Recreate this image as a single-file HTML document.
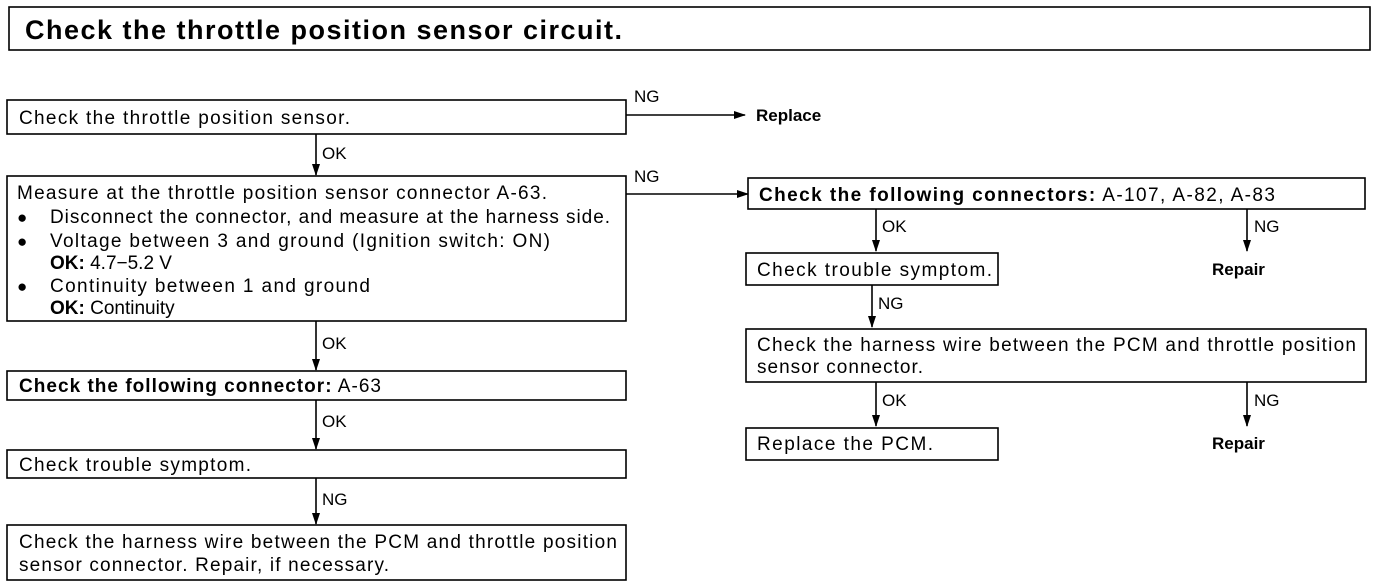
<!DOCTYPE html>
<html><head><meta charset="utf-8"><style>
html,body{margin:0;padding:0;background:#fff;}
svg{display:block;}
text{font-family:"Liberation Sans",Arial,sans-serif;font-size:19px;fill:#000;}
.s{font-size:17px;}
.b{font-weight:bold;}
</style></head><body>
<svg width="1392" height="588" viewBox="0 0 1392 588" xmlns="http://www.w3.org/2000/svg">
<defs><marker id="a" markerWidth="12" markerHeight="8" refX="11" refY="4" orient="auto" markerUnits="userSpaceOnUse"><path d="M0,0 L12,4 L0,8 Z" fill="#000"/></marker></defs>
<g fill="none" stroke="#000" stroke-width="1.6">
<rect x="9" y="7" width="1361" height="43"/>
<rect x="7" y="100" width="619" height="34"/>
<rect x="7" y="176" width="619" height="145"/>
<rect x="7" y="371" width="619" height="29"/>
<rect x="7" y="450" width="619" height="28"/>
<rect x="7" y="525" width="619" height="55"/>
<rect x="748" y="178" width="617" height="31"/>
<rect x="746" y="253" width="252" height="32"/>
<rect x="746" y="329" width="620" height="53"/>
<rect x="746" y="428" width="252" height="32"/>
<line x1="626" y1="115" x2="745" y2="115" marker-end="url(#a)"/>
<line x1="626" y1="194" x2="748" y2="194" marker-end="url(#a)"/>
<line x1="316" y1="134" x2="316" y2="175" marker-end="url(#a)"/>
<line x1="316" y1="321" x2="316" y2="370" marker-end="url(#a)"/>
<line x1="316" y1="400" x2="316" y2="449" marker-end="url(#a)"/>
<line x1="316" y1="478" x2="316" y2="524" marker-end="url(#a)"/>
<line x1="876" y1="209" x2="876" y2="251" marker-end="url(#a)"/>
<line x1="1247" y1="209" x2="1247" y2="251" marker-end="url(#a)"/>
<line x1="872" y1="285" x2="872" y2="327" marker-end="url(#a)"/>
<line x1="876" y1="382" x2="876" y2="426" marker-end="url(#a)"/>
<line x1="1247" y1="382" x2="1247" y2="426" marker-end="url(#a)"/>
</g>
<text x="25" y="39" class="b" style="font-size:27px" textLength="597">Check the throttle position sensor circuit.</text>
<text x="19" y="124" textLength="331">Check the throttle position sensor.</text>
<text x="634" y="102" class="s">NG</text>
<text x="756" y="121" class="b s">Replace</text>
<text x="322" y="159" class="s">OK</text>
<text x="634" y="182" class="s">NG</text>
<text x="17" y="199" textLength="530">Measure at the throttle position sensor connector A-63.</text>
<text x="17" y="223" class="s">●</text><text x="50" y="223" textLength="560">Disconnect the connector, and measure at the harness side.</text>
<text x="17" y="247" class="s">●</text><text x="50" y="247" textLength="500">Voltage between 3 and ground (Ignition switch: ON)</text>
<text x="50" y="269"><tspan class="b">OK:</tspan>  4.7−5.2 V</text>
<text x="17" y="292" class="s">●</text><text x="50" y="292" textLength="320">Continuity between 1 and ground</text>
<text x="50" y="314"><tspan class="b">OK:</tspan>  Continuity</text>
<text x="322" y="349" class="s">OK</text>
<text x="19" y="392" textLength="362"><tspan class="b">Check the following connector:</tspan> A-63</text>
<text x="322" y="427" class="s">OK</text>
<text x="19" y="471" textLength="232">Check trouble symptom.</text>
<text x="322" y="505" class="s">NG</text>
<text x="19" y="548" textLength="598">Check the harness wire between the PCM and throttle position</text>
<text x="19" y="571" textLength="370">sensor connector. Repair, if necessary.</text>
<text x="759" y="201" textLength="516"><tspan class="b">Check the following connectors:</tspan> A-107, A-82, A-83</text>
<text x="882" y="232" class="s">OK</text>
<text x="1254" y="232" class="s">NG</text>
<text x="757" y="276" textLength="235">Check trouble symptom.</text>
<text x="1212" y="275" class="b s">Repair</text>
<text x="878" y="309" class="s">NG</text>
<text x="757" y="351" textLength="599">Check the harness wire between the PCM and throttle position</text>
<text x="757" y="373" textLength="166">sensor connector.</text>
<text x="882" y="406" class="s">OK</text>
<text x="1254" y="406" class="s">NG</text>
<text x="757" y="450" textLength="176">Replace the PCM.</text>
<text x="1212" y="449" class="b s">Repair</text>
</svg>
</body></html>
